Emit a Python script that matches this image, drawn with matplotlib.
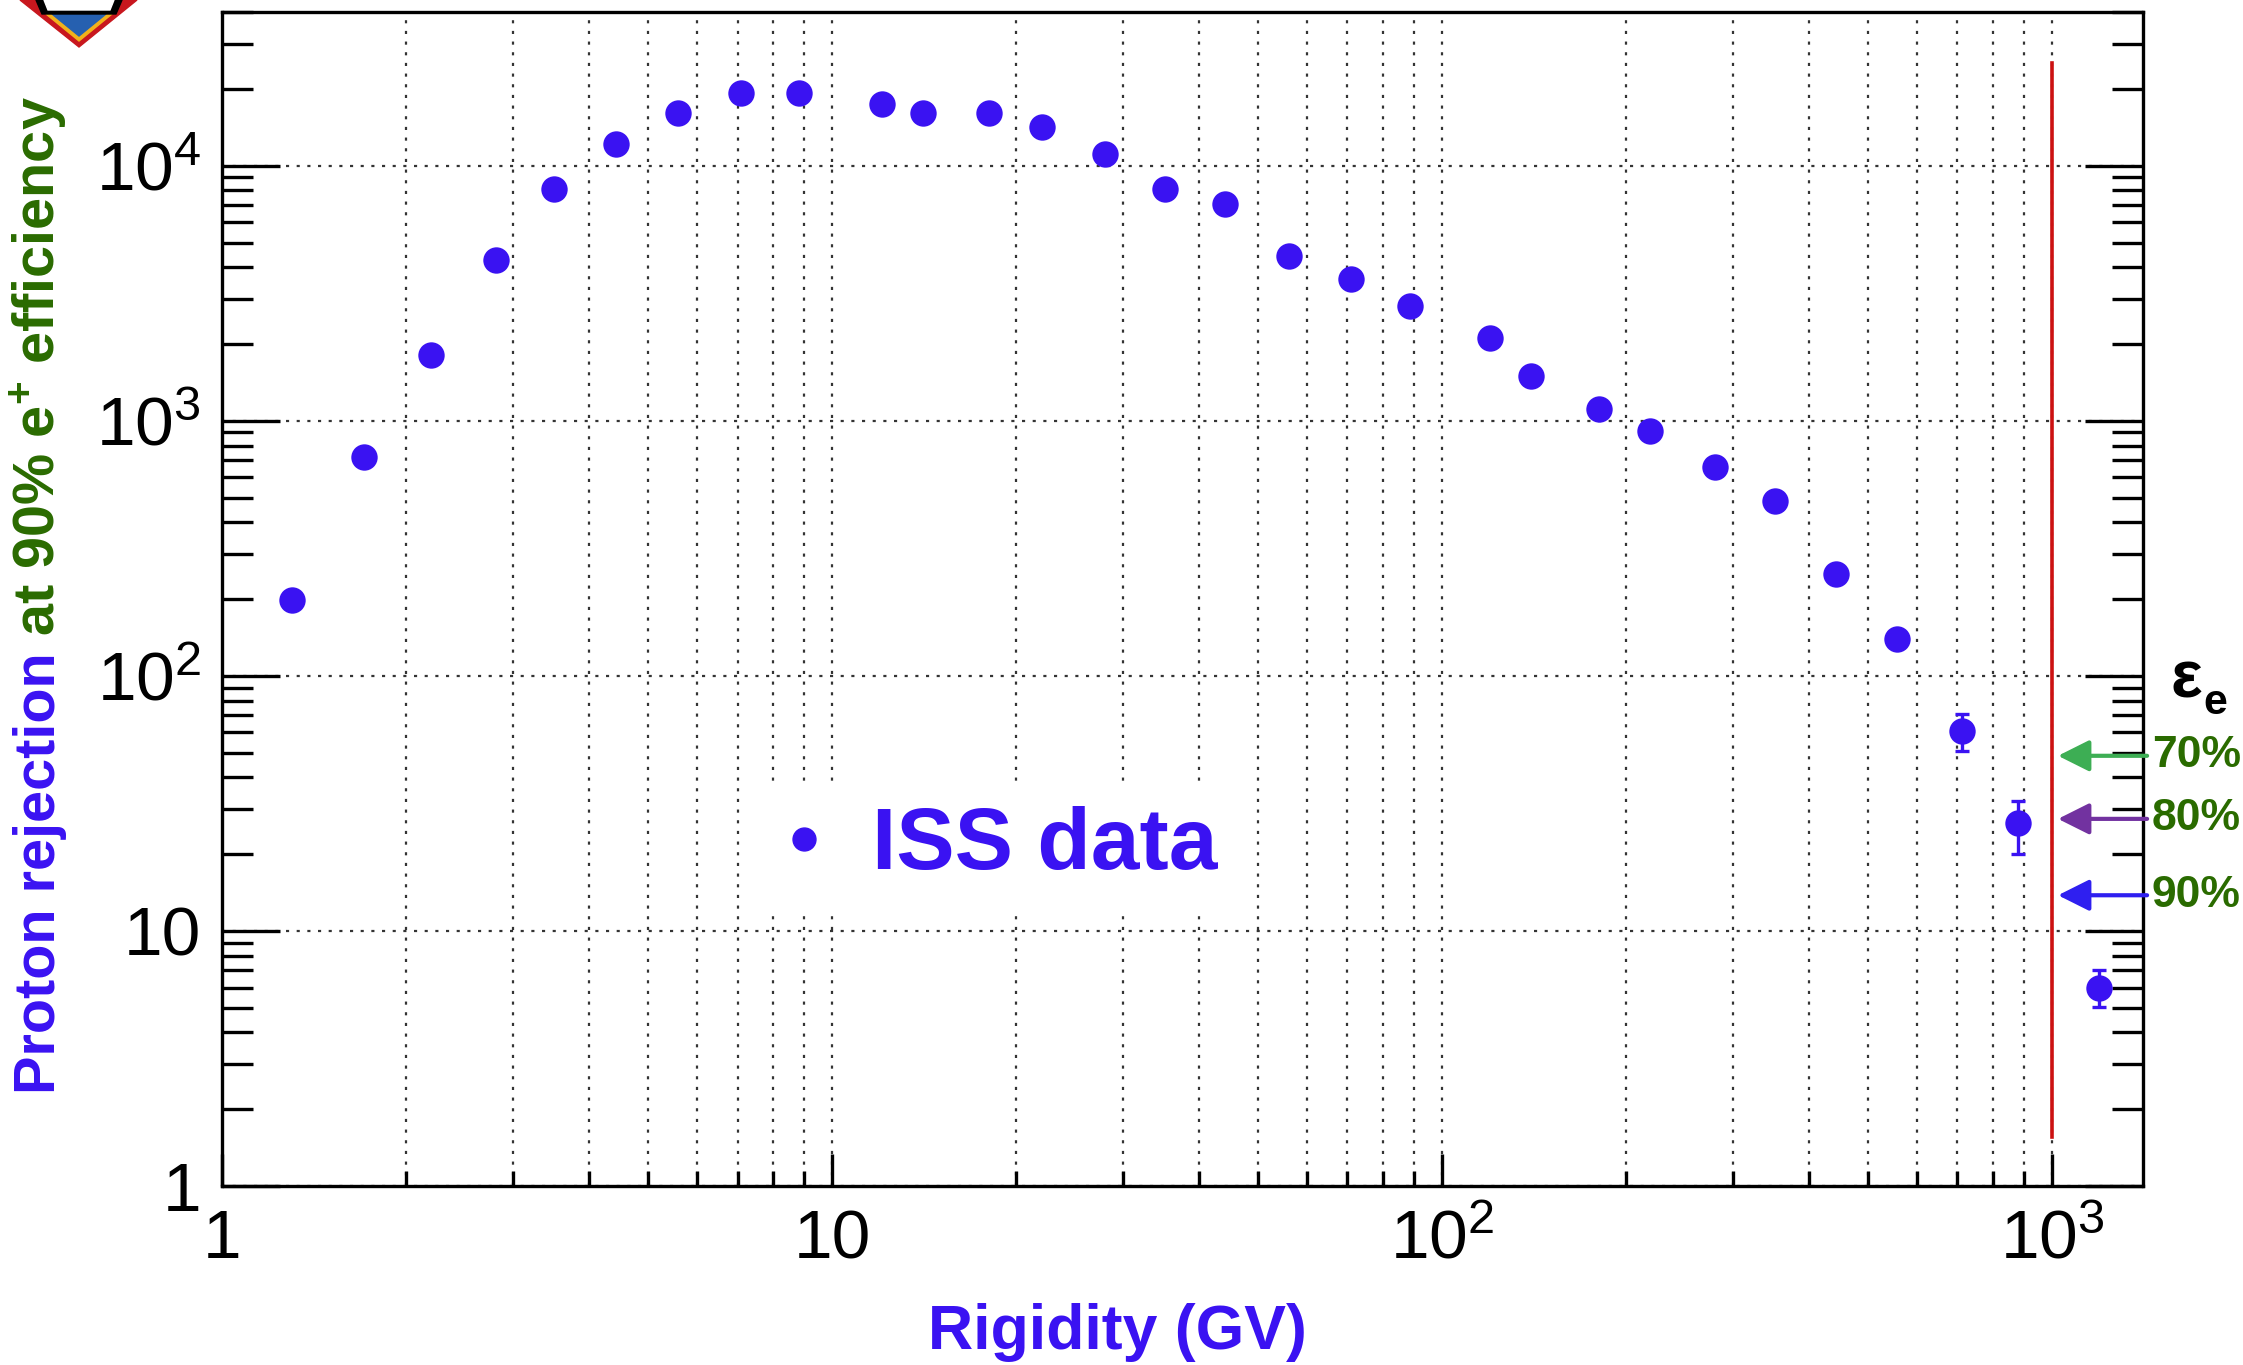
import numpy as np
import matplotlib
matplotlib.use("Agg")
import matplotlib.pyplot as plt
from matplotlib.lines import Line2D
from matplotlib.patches import Polygon

plt.rcParams['font.family'] = ['Liberation Sans', 'DejaVu Sans']
plt.rcParams['mathtext.fontset'] = 'custom'
plt.rcParams['mathtext.rm'] = 'Liberation Sans'
plt.rcParams['mathtext.bf'] = 'Liberation Sans:bold'
plt.rcParams['mathtext.default'] = 'regular'

# ISS data
rigidity = [1.30, 1.71, 2.20, 2.81, 3.50, 4.42, 5.60, 7.10, 8.82, 12.1,
            14.1, 18.1, 22.1, 28.0, 35.1, 44.1, 56.2, 71.0, 88.5, 120,
            140, 181, 219, 280, 351, 442, 558, 712, 878, 1195]
rejection = [199, 724, 1813, 4258, 8130, 12140, 16140, 19340, 19340, 17440,
             16140, 16140, 14190, 11090, 8130, 7050, 4430, 3600, 2815, 2117,
             1493, 1109, 914, 661, 484, 250, 140, 61, 26.4, 6.0]
err_low = [0] * 27 + [10.2, 6.3, 0.98]
err_high = [0] * 27 + [10.0, 6.0, 1.05]

x_ticks = [1, 10, 100, 1000]
x_labels = ['1', '10', '$10^{2}$', '$10^{3}$']
y_ticks = [1, 10, 100, 1000, 10000]
y_labels = ['1', '10', '$10^{2}$', '$10^{3}$', '$10^{4}$']

# electron efficiency markers on the right edge
eff_labels = ['70%', '80%', '90%']
eff_levels = [48.6, 27.5, 13.8]
eff_colors = ['#3DAE54', '#7232A0', '#2F1FF0']

cut_rigidity = 1000
cut_range = [1.56, 25300]

BLUE = '#3A12F2'
GREEN = '#2A6B00'

W, H = 2243, 1365
fig = plt.figure(figsize=(W / 100, H / 100), dpi=100)
ax = fig.add_axes([222 / W, 1 - 1186 / H, (2143 - 222) / W, (1186 - 12) / H])

ax.set_xscale('log')
ax.set_yscale('log')
ax.set_xlim(1, 1410)
ax.set_ylim(1, 40060)

dots = dict(ls=(0, (1.4, 3.4)), color='#333333', lw=1.6)
ax.grid(True, which='major', axis='y', **dots)
ax.grid(True, which='both', axis='x', **dots)
ax.set_axisbelow(True)

has_err = np.array(err_high) > 0
r = np.array(rigidity)
v = np.array(rejection)
ax.errorbar(r[has_err], v[has_err],
            yerr=[np.array(err_low)[has_err], np.array(err_high)[has_err]],
            fmt='none', ecolor=BLUE, elinewidth=2.4, capsize=5, capthick=2.4, zorder=3)
ax.plot(r, v, 'o', color=BLUE, markersize=19, markeredgewidth=0, zorder=4)

ax.plot([cut_rigidity, cut_rigidity], cut_range, color='#CC1111', lw=2.6, zorder=3)

for lab, lev, col in zip(eff_labels, eff_levels, eff_colors):
    ax.annotate('', xy=(1023, lev), xytext=(1432, lev), annotation_clip=False,
                arrowprops=dict(arrowstyle='-|>,head_length=0.4,head_width=0.2',
                                mutation_scale=48, color=col, lw=3,
                                shrinkA=0, shrinkB=0))
    ax.text(1.0045, lev, lab, transform=ax.get_yaxis_transform(), ha='left',
            va='center', fontsize=32, fontweight='bold', color=GREEN)

fig.text(2186 / W, 1 - 681 / H, 'ε', fontsize=48, fontweight='bold',
         ha='center', va='center', color='black')
fig.text(2215 / W, 1 - 703 / H, 'e', fontsize=31, fontweight='bold',
         ha='center', va='center', color='black')

# axes styling
for sp in ax.spines.values():
    sp.set_linewidth(2.4)
ax.tick_params(axis='y', which='major', direction='in', length=42, width=2.4,
               left=True, right=True, labelsize=50, pad=15)
ax.tick_params(axis='y', which='minor', direction='in', length=22, width=2.4,
               left=True, right=True)
ax.tick_params(axis='x', which='major', direction='in', length=23, width=2.4,
               top=False, labelsize=50, pad=52)
ax.tick_params(axis='x', which='minor', direction='in', length=11, width=2.4,
               top=False)
ax.set_xticks(x_ticks, x_labels)
ax.set_yticks(y_ticks, y_labels)
for t in ax.get_xticklabels():
    t.set_va('baseline')

# legend with white box over the grid
handle = Line2D([], [], marker='o', ls='none', color=BLUE, markersize=16.5)
leg = ax.legend([handle], ['ISS data'], loc='center',
                bbox_to_anchor=(993 / W, 1 - 847 / H), bbox_transform=fig.transFigure,
                prop=dict(size=63, weight='bold'), labelcolor=BLUE,
                frameon=True, facecolor='white', edgecolor='none', framealpha=1,
                fancybox=False, handlelength=0.8, handletextpad=0.38, borderpad=0.28)

# axis titles
fig.text(1117 / W, 1 - 1333 / H, 'Rigidity (GV)', fontsize=45, fontweight='bold',
         color=BLUE, ha='center', va='center')

x0, y0 = 55 / W, 1 - 1094 / H
t1 = fig.text(x0, y0, 'Proton rejection', rotation=90, rotation_mode='anchor',
              ha='left', va='baseline', fontsize=41.5, fontweight='bold', color=BLUE)
renderer = fig.canvas.get_renderer()
bb = t1.get_window_extent(renderer).transformed(fig.transFigure.inverted())
fig.text(x0, bb.y1 + 0.012, r'at 90% e$^{\mathbf{+}}$ efficiency', rotation=90,
         rotation_mode='anchor', ha='left', va='baseline', fontsize=41.5,
         fontweight='bold', color=GREEN)

# small logo cut off in the top-left corner
def px(points):
    return [(x / W, 1 - y / H) for x, y in points]

fig.add_artist(Polygon(px([(20, 0), (137, 0), (79, 47)]), closed=True,
                       transform=fig.transFigure, color='#C8171E'))
fig.add_artist(Polygon(px([(46, 14), (112, 14), (79, 41)]), closed=True,
                       transform=fig.transFigure, color='#F2B21A'))
fig.add_artist(Polygon(px([(52, 14), (106, 14), (79, 36)]), closed=True,
                       transform=fig.transFigure, color='#2660B0'))
fig.add_artist(Polygon(px([(36, 0), (122, 0), (116, 14), (42, 14)]), closed=True,
                       transform=fig.transFigure, color='black'))
fig.add_artist(Polygon(px([(44, 0), (114, 0), (110, 10), (48, 10)]), closed=True,
                       transform=fig.transFigure, color='white'))

fig.savefig('out.png', dpi=100)
